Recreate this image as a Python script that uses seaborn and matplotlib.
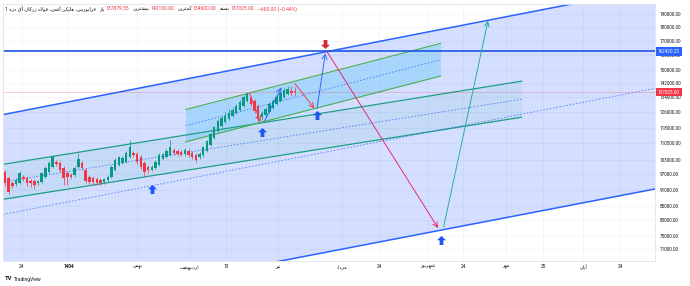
import matplotlib
matplotlib.use("Agg")
import matplotlib.pyplot as plt
import seaborn as sns
import numpy as np
from matplotlib.path import Path
from matplotlib.ticker import NullLocator

# ---- data ----
bar_open = [98000, 95600, 93600, 93200, 93600, 96000, 95600, 94400, 94400, 93600,
            94000, 96000, 98000, 100100, 102200, 101800, 99700, 97600, 96800, 96800,
            100100, 101800, 98800, 96000, 95600, 95200, 94800, 94000, 94800, 96000,
            98800, 100900, 101800, 102200, 104400, 106100, 105700, 104400, 101800, 100100,
            98800, 99700, 100900, 103500, 104400, 105200, 107500, 107000, 106600, 105700,
            107000, 106100, 105200, 104400, 105200, 107000, 109700, 113000, 116400, 118800,
            120800, 122400, 123900, 125500, 127100, 129200, 132000, 133600, 132000, 129200,
            123400, 124400, 126000, 128100, 130300, 132000, 134200, 135900, 137600, 137879.55]
bar_close = [93600, 90100, 92400, 94800, 97600, 95200, 93600, 93600, 92800, 94400,
             97600, 99700, 101800, 104400, 101300, 98800, 95600, 96000, 96000, 99700,
             103500, 99700, 94400, 94000, 94000, 93600, 93600, 95200, 96000, 100100,
             103100, 104400, 103900, 106100, 108800, 105200, 102200, 100100, 98000, 98800,
             100100, 102200, 105200, 105700, 107000, 108800, 106100, 105700, 105200, 107500,
             105200, 104400, 103100, 105700, 108800, 111600, 114900, 118300, 121300, 122900,
             123900, 125500, 127100, 129200, 131400, 134200, 135900, 130300, 126500, 122900,
             125500, 127600, 130300, 132000, 134200, 136500, 138200, 138800, 136500, 137025]
bar_high = [98800, 96400, 94400, 95600, 98400, 96800, 96400, 95200, 95200, 94800,
            98000, 100500, 102600, 105200, 103100, 102600, 100500, 98400, 97600, 100500,
            106100, 102600, 99700, 96800, 96400, 96000, 95600, 95600, 96800, 100900,
            103900, 104800, 104800, 107000, 112100, 107000, 106600, 105200, 102600, 100900,
            100900, 103100, 106100, 106100, 107900, 112100, 108400, 107900, 107500, 108400,
            107900, 107000, 106100, 106600, 109300, 112100, 115400, 118800, 122400, 123900,
            126000, 127600, 128700, 130300, 132500, 135300, 137000, 134800, 133100, 130300,
            126500, 128700, 131400, 133100, 135300, 137600, 139300, 140500, 140500, 140100]
bar_low = [92400, 89400, 91600, 92400, 93200, 94400, 92400, 92000, 91300, 92800,
           93600, 95600, 97600, 99700, 100500, 98000, 92800, 92800, 95200, 96000,
           99700, 98800, 93600, 93200, 92800, 92800, 92800, 93200, 94000, 95600,
           98400, 100500, 101300, 101800, 103900, 104400, 101300, 99200, 96000, 97600,
           98400, 99200, 100500, 103100, 103900, 104800, 105200, 104800, 104800, 104800,
           104400, 103500, 102200, 103500, 104400, 106600, 109300, 112500, 115900, 118300,
           120300, 121900, 123400, 125000, 126500, 128700, 131400, 129200, 125500, 120800,
           121900, 123400, 125500, 127600, 129800, 131400, 133600, 135300, 134800, 134600]

# big (blue) rising channel
big_x = [-0.5, 177.1]
big_upper = [124650, 212050]
big_mid = [82040, 139100]
big_lower = [53980, 91260]
# long green channel
long_x = [-0.5, 140.8]
long_upper = [101200, 143400]
long_mid = [94050, 132970]
long_lower = [87400, 123300]
# short green channel
short_x = [49.2, 118.7]
short_upper = [127300, 168000]
short_mid = [118980, 156880]
short_lower = [111200, 146500]

resistance = 162420.25
last_price = 137025.00

# thin path arrows
arrow_x0 = [66.6, 70.6, 79.0, 85.0, 87.7, 119.5]
arrow_p0 = [136550, 120900, 142000, 127900, 162400, 77800]
arrow_x1 = [69.6, 75.3, 84.3, 87.3, 118.0, 131.6]
arrow_p1 = [120900, 139700, 127900, 161100, 77500, 184700]
arrow_col = ['#f23645', '#2962ff', '#f23645', '#2962ff', '#e91e63', '#22ab94']

# block arrow markers
up_x = [40.1, 70.0, 85.0, 118.7]
up_p = [91400, 116000, 124300, 73600]
down_x = [87.1]
down_p = [167300]

price_ticks = [190000, 180000, 170000, 160000, 150000, 142000, 134000, 126000, 118000,
               110500, 103000, 97000, 91000, 85000, 80000, 75000, 71000]
time_pos = [4.5, 17.3, 36.0, 50.3, 60.2, 74.4, 91.8, 101.9, 115.3, 124.8, 136.5, 146.6, 157.5, 167.6]
time_lab = ['24', '1404', 'بهمن', 'اردیبهشت', '13', 'تیر', 'مرداد', '24', 'شهریور', '24',
            'مهر', '25', 'آبان', '24']

symbol_txt = 'فرابورس، هایکن آشی، فولاد زرکان آق دره 1'
legend_parts = [('باز', '137879.55'), ('بیشترین', '140100.00'), ('کمترین', '134600.00'),
                ('بسته', '137025.00')]
change_txt = '−600.00 (−0.44%)'

# ---- minimal Persian shaping (matplotlib has no RTL shaping) ----
FORMS = {'ا': (0xFE8D, 0xFE8E), 'آ': (0xFE81, 0xFE82), 'د': (0xFEA9, 0xFEAA),
         'ذ': (0xFEAB, 0xFEAC), 'ر': (0xFEAD, 0xFEAE), 'ز': (0xFEAF, 0xFEB0),
         'ژ': (0xFB8A, 0xFB8B), 'و': (0xFEED, 0xFEEE),
         'ب': 0xFE8F, 'ت': 0xFE95, 'ج': 0xFE9D, 'ح': 0xFEA1, 'خ': 0xFEA5,
         'س': 0xFEB1, 'ش': 0xFEB5, 'ف': 0xFED1, 'ق': 0xFED5, 'ل': 0xFEDD,
         'م': 0xFEE1, 'ن': 0xFEE5, 'ه': 0xFEE9, 'ی': 0xFBFC, 'ک': 0xFB8E,
         'گ': 0xFB92, 'پ': 0xFB56, 'چ': 0xFB7A}


def shape(text):
    if not any(ch in FORMS for ch in text):
        return text
    out = []
    k = 0
    n = len(text)
    while k < n:
        ch = text[k]
        if ch not in FORMS:
            out.append(ch)
            k += 1
            continue
        prev = text[k - 1] if k > 0 else ''
        joined = prev in FORMS and not isinstance(FORMS[prev], tuple)
        if ch == 'ل' and k + 1 < n and text[k + 1] in 'اآ':
            base = 0xFEFB if text[k + 1] == 'ا' else 0xFEF5
            out.append(chr(base + (1 if joined else 0)))
            k += 2
            continue
        f = FORMS[ch]
        if isinstance(f, tuple):
            out.append(chr(f[1] if joined else f[0]))
        else:
            nxt = text[k + 1] if k + 1 < n else ''
            jn = nxt in FORMS
            off = 3 if (joined and jn) else 1 if joined else 2 if jn else 0
            out.append(chr(f + off))
        k += 1
    return ''.join(reversed(out))


# ---- plot ----
sns.set_style("white")
plt.rcParams['font.family'] = ['Roboto', 'DejaVu Sans']

TXT = '#131722'
GREEN = '#089981'
RED = '#f23645'
BLUE = '#2962ff'

fig = plt.figure(figsize=(6.9, 2.86), dpi=100)
ax = fig.add_axes([3 / 690, 25 / 286, 652 / 690, 257 / 286])
ax.set_yscale('log')
ax.set_ylim(67490, 198130)
ax.set_xlim(-0.545, 177.1)

# grid / axes
ax.set_xticks(time_pos)
ax.set_xticklabels([shape(t) for t in time_lab])
ax.set_yticks(price_ticks)
ax.set_yticklabels([f"{p:.2f}" for p in price_ticks])
ax.yaxis.set_minor_locator(NullLocator())
ax.yaxis.tick_right()
ax.grid(True, color='#eef1f8', lw=0.5)
ax.set_axisbelow(True)
ax.tick_params(axis='y', length=0, labelsize=3.3, pad=3.5, labelcolor=TXT)
ax.tick_params(axis='x', length=0, labelsize=3.4, pad=2.5, labelcolor=TXT)
for lab in ax.get_xticklabels():
    if lab.get_text() == '1404':
        lab.set_fontweight('bold')
for s in ax.spines.values():
    s.set_color('#e0e3eb')
    s.set_linewidth(0.6)

# channels
ax.fill_between(big_x, big_lower, big_upper, color=BLUE, alpha=0.2, lw=0, zorder=1)
ax.fill_between(long_x, long_lower, long_upper, color=GREEN, alpha=0.07, lw=0, zorder=1.1)
ax.fill_between(short_x, short_lower, short_upper, color='#4fc3f7', alpha=0.33, lw=0, zorder=1.2)

for xs, ys in [(big_x, big_upper), (big_x, big_lower)]:
    ax.plot(xs, ys, color=BLUE, lw=1.1, zorder=2)
for xs, ys in [(long_x, long_upper), (long_x, long_lower)]:
    ax.plot(xs, ys, color='#1e9e84', lw=0.9, zorder=2)
for xs, ys in [(short_x, short_upper), (short_x, short_lower)]:
    ax.plot(xs, ys, color='#4caf50', lw=0.8, zorder=2)
for xs, ys in [(big_x, big_mid), (long_x, long_mid), (short_x, short_mid)]:
    ax.plot(xs, ys, color=BLUE, lw=0.6, alpha=0.75, dashes=(2, 2), zorder=2)

ax.axhline(resistance, color='#1e53e5', lw=1.2, zorder=2.5)
ax.axhline(last_price, color=RED, lw=0.5, alpha=0.35, zorder=2.4)

# heikin ashi candles
idx = np.arange(len(bar_open))
o = np.array(bar_open)
c = np.array(bar_close)
cols = [GREEN if cc >= oo else RED for oo, cc in zip(o, c)]
ax.vlines(idx, bar_low, bar_high, colors=cols, lw=0.5, zorder=3)
ax.bar(idx, np.abs(c - o), bottom=np.minimum(o, c), width=0.68, color=cols, lw=0, zorder=3.1)

# path arrows
for x0, p0, x1, p1, col in zip(arrow_x0, arrow_p0, arrow_x1, arrow_p1, arrow_col):
    ax.annotate('', xy=(x1, p1), xytext=(x0, p0),
                arrowprops=dict(arrowstyle='->,head_length=0.45,head_width=0.22',
                                color=col, lw=0.65, shrinkA=0, shrinkB=0, mutation_scale=8),
                zorder=4)

# block arrows
up_path = Path([(0, 1), (1, 0.05), (0.42, 0.05), (0.42, -1), (-0.42, -1),
                (-0.42, 0.05), (-1, 0.05), (0, 1)])
down_path = Path([(x, -y) for x, y in up_path.vertices])
sns.scatterplot(x=up_x, y=up_p, marker=up_path, s=42, color='#2156f0',
                linewidth=0, ax=ax, zorder=5)
sns.scatterplot(x=down_x, y=down_p, marker=down_path, s=42, color='#d42a35',
                linewidth=0, ax=ax, zorder=5)

# price labels on the axis
for val, fc in [(resistance, '#2962ff'), (last_price, RED)]:
    ax.annotate(f"{val:.2f}", xy=(1, val), xycoords=ax.get_yaxis_transform(),
                xytext=(2.2, 0), textcoords='offset points', va='center', ha='left',
                fontsize=3.3, color='white', annotation_clip=False, zorder=6,
                bbox=dict(boxstyle='square,pad=0.35', fc=fc, ec='none'))

# legend header
FS = 3.6
prev = fig.text(5 / 690, 1 - 9 / 286, shape(symbol_txt), fontsize=FS, color=TXT, va='center')
for lab, val in legend_parts:
    prev = ax.annotate(shape(lab), xy=(1, 0.5), xycoords=prev, xytext=(2.5, 0),
                       textcoords='offset points', va='center', fontsize=FS,
                       color=TXT, annotation_clip=False)
    prev = ax.annotate(val, xy=(1, 0.5), xycoords=prev, xytext=(0.6, 0),
                       textcoords='offset points', va='center', fontsize=FS,
                       color=RED, annotation_clip=False)
ax.annotate(change_txt, xy=(1, 0.5), xycoords=prev, xytext=(3, 0),
            textcoords='offset points', va='center', fontsize=FS, color=RED,
            annotation_clip=False)

# TradingView logo
logo = fig.text(5 / 690, 1 - 279 / 286, 'TV', fontsize=4.2, fontweight='bold',
                color=TXT, va='center')
ax.annotate('TradingView', xy=(1, 0.5), xycoords=logo, xytext=(1.2, 0),
            textcoords='offset points', va='center', fontsize=3.6, color=TXT,
            annotation_clip=False)

fig.savefig('out.png', dpi=100)
